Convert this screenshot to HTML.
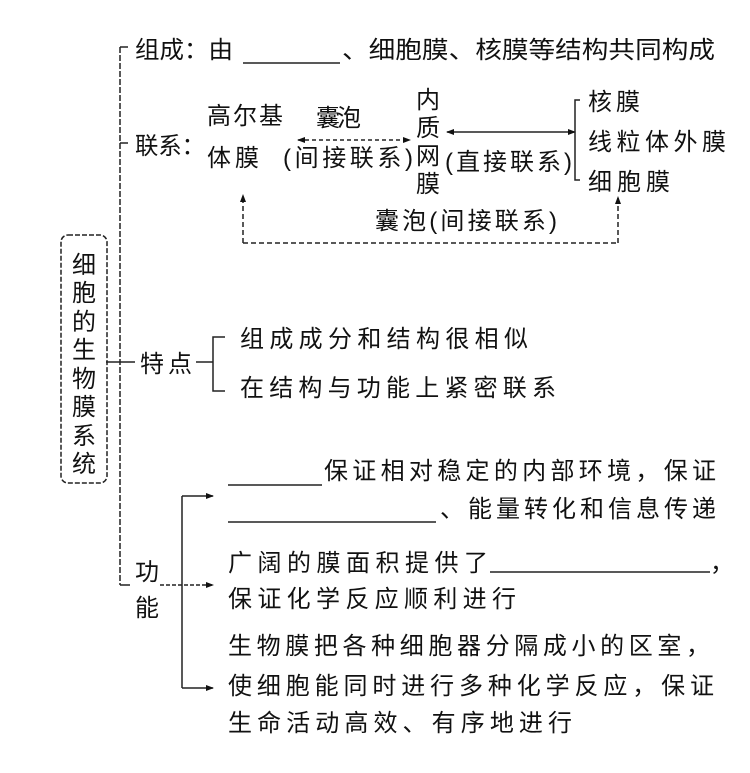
<!DOCTYPE html>
<html><head><meta charset="utf-8"><style>
html,body{margin:0;padding:0;background:#fff;}
svg text{font-family:"Liberation Sans","Noto Sans CJK SC",sans-serif;fill:#111;font-size:24px;}
</style></head><body>
<svg width="750" height="768" viewBox="0 0 750 768" xmlns="http://www.w3.org/2000/svg">
<defs>
<marker id="a" markerWidth="8" markerHeight="8" refX="7" refY="4" orient="auto" markerUnits="userSpaceOnUse"><path d="M0,1 L8,4 L0,7 Z" fill="#111"/></marker>
<marker id="b" markerWidth="8" markerHeight="8" refX="1" refY="4" orient="auto" markerUnits="userSpaceOnUse"><path d="M8,1 L0,4 L8,7 Z" fill="#111"/></marker>
</defs>
<g stroke="#222" stroke-width="1.5" fill="none">
<line x1="120" y1="47" x2="120" y2="585" stroke-dasharray="6,2"/>
<line x1="120" y1="47" x2="128" y2="47"/>
<line x1="120" y1="143" x2="128" y2="143"/>
<line x1="106" y1="362" x2="135" y2="362"/>
<line x1="120" y1="585" x2="130" y2="585"/>
<rect x="61" y="235" width="46" height="248" rx="7" stroke-dasharray="5,2"/>
<line x1="298" y1="140" x2="410" y2="140" stroke-dasharray="4,3" marker-start="url(#b)" marker-end="url(#a)"/>
<line x1="447" y1="132" x2="575" y2="132" marker-start="url(#b)" marker-end="url(#a)"/>
<path d="M580,100 L575,100 L575,180 L580,180"/>
<path d="M243,243 L618,243" stroke-dasharray="5,3"/>
<line x1="243" y1="243" x2="243" y2="195" stroke-dasharray="5,3" marker-end="url(#a)"/>
<line x1="618" y1="243" x2="618" y2="197" stroke-dasharray="5,3" marker-end="url(#a)"/>
<line x1="196" y1="362" x2="213" y2="362"/>
<path d="M225,337 L213,337 L213,391 L225,391"/>
<line x1="160" y1="585" x2="213" y2="585" stroke-dasharray="4,2" marker-end="url(#a)"/>
<line x1="182" y1="496" x2="182" y2="688"/>
<line x1="182" y1="496" x2="213" y2="496" marker-end="url(#a)"/>
<line x1="182" y1="688" x2="213" y2="688" marker-end="url(#a)"/>
<line x1="243" y1="63" x2="340" y2="63"/>
<line x1="228" y1="485" x2="322" y2="485"/>
<line x1="228" y1="522" x2="436" y2="522"/>
<line x1="490" y1="572" x2="710" y2="572"/>
</g>
<g font-size="26" text-anchor="middle">
<text font-size="26" x="84" y="273" text-anchor="middle">细</text>
<text font-size="26" x="84" y="301" text-anchor="middle">胞</text>
<text font-size="26" x="84" y="330" text-anchor="middle">的</text>
<text font-size="26" x="84" y="358" text-anchor="middle">生</text>
<text font-size="26" x="84" y="387" text-anchor="middle">物</text>
<text font-size="26" x="84" y="415" text-anchor="middle">膜</text>
<text font-size="26" x="84" y="444" text-anchor="middle">系</text>
<text font-size="26" x="84" y="472" text-anchor="middle">统</text>
</g>
<text x="135" y="58" textLength="98" lengthAdjust="spacingAndGlyphs">组成：由</text>
<text x="342" y="58" textLength="373" lengthAdjust="spacingAndGlyphs">、细胞膜、核膜等结构共同构成</text>
<text x="135" y="154" textLength="70" lengthAdjust="spacingAndGlyphs">联系：</text>
<text x="207" y="124" textLength="76">高尔基</text>
<text x="207" y="166" textLength="52">体膜</text>
<text x="316" y="126" font-size="21" textLength="45">囊泡</text>
<text x="283" y="166" font-size="21" textLength="130">(间接联系)</text>
<text x="416" y="108">内</text>
<text x="416" y="136">质</text>
<text x="416" y="164">网</text>
<text x="416" y="192">膜</text>
<text x="445" y="170" font-size="21" textLength="127">(直接联系)</text>
<text x="588" y="110" textLength="52">核膜</text>
<text x="588" y="150" textLength="138">线粒体外膜</text>
<text x="588" y="190" textLength="82">细胞膜</text>
<text x="375" y="229" font-size="21" textLength="182">囊泡(间接联系)</text>
<text x="140" y="372" textLength="52">特点</text>
<text x="240" y="347" textLength="288">组成成分和结构很相似</text>
<text x="240" y="396" textLength="316">在结构与功能上紧密联系</text>
<text x="135" y="580">功</text>
<text x="135" y="616">能</text>
<text x="324" y="479" textLength="392">保证相对稳定的内部环境，保证</text>
<text x="440" y="517" textLength="276">、能量转化和信息传递</text>
<text x="228" y="571" textLength="260">广阔的膜面积提供了</text>
<text x="710" y="571">，</text>
<text x="228" y="607" textLength="288">保证化学反应顺利进行</text>
<text x="228" y="654" textLength="482">生物膜把各种细胞器分隔成小的区室，</text>
<text x="228" y="694" textLength="486">使细胞能同时进行多种化学反应，保证</text>
<text x="228" y="731" textLength="344">生命活动高效、有序地进行</text>
</svg>
</body></html>
